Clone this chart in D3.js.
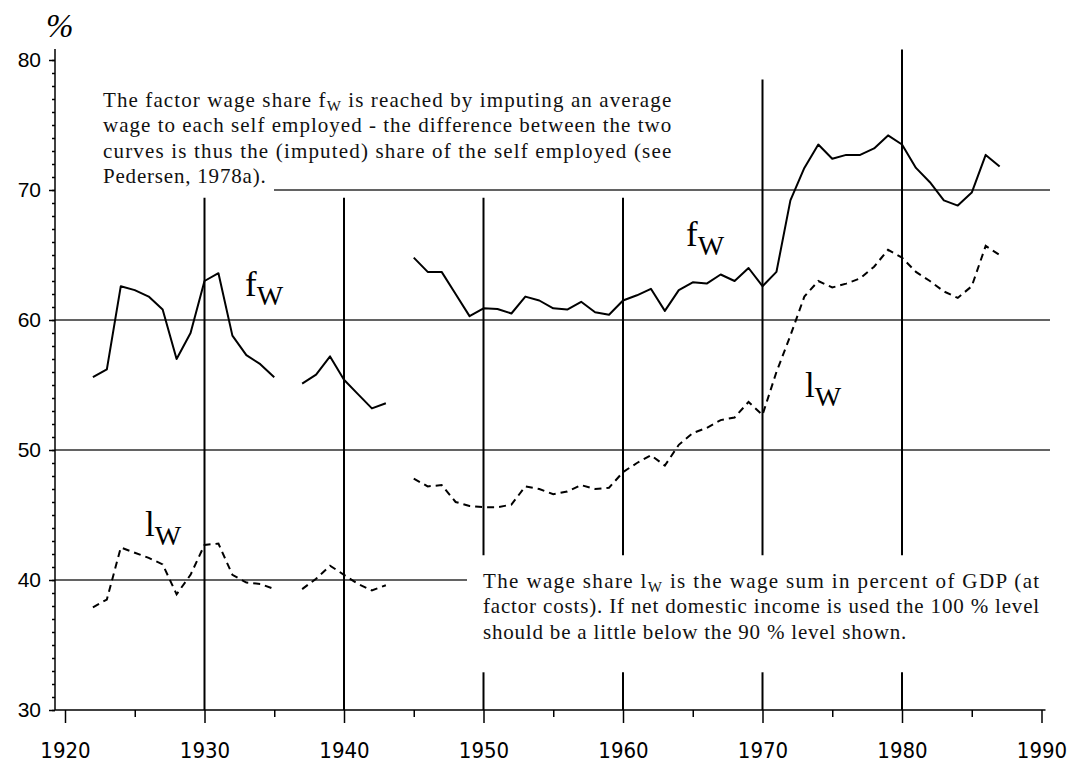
<!DOCTYPE html>
<html>
<head>
<meta charset="utf-8">
<script src="https://cdn.jsdelivr.net/npm/d3@7"></script>
<style>
  body { margin: 0; background: #fff; }
  svg { display: block; }
  .grid { stroke: #2f2f2f; stroke-width: 1.7; }
  .vline { stroke: #000; stroke-width: 2; }
  .fw { fill: none; stroke: #000; stroke-width: 2; stroke-linejoin: round; }
  .lw { fill: none; stroke: #000; stroke-width: 2; stroke-dasharray: 7 5; }
  .axis text { font-family: "Liberation Sans", Arial, sans-serif; font-size: 21px; fill: #000; }
  .axis.xa text { font-family: "Liberation Sans Narrow", "DejaVu Sans Condensed", "Liberation Sans", sans-serif; font-size: 22px; }
  .axis path, .axis line { stroke: #000; stroke-width: 1.5; }
  .note { font-family: "Liberation Serif", "Times New Roman", serif; font-size: 21px; letter-spacing: 0.8px; fill: #111; }
  .lab { font-family: "Liberation Serif", "Times New Roman", serif; fill: #000; }
</style>
</head>
<body>
<svg width="1085" height="775"></svg>
<script>
var years = [1922, 1923, 1924, 1925, 1926, 1927, 1928, 1929, 1930, 1931, 1932, 1933, 1934, 1935, 1936,
             1937, 1938, 1939, 1940, 1941, 1942, 1943, 1944,
             1945, 1946, 1947, 1948, 1949, 1950, 1951, 1952, 1953, 1954, 1955, 1956, 1957, 1958, 1959,
             1960, 1961, 1962, 1963, 1964, 1965, 1966, 1967, 1968, 1969, 1970, 1971, 1972, 1973, 1974,
             1975, 1976, 1977, 1978, 1979, 1980, 1981, 1982, 1983, 1984, 1985, 1986, 1987];

// factor wage share (solid)
var fwValues = [55.6, 56.2, 62.6, 62.3, 61.8, 60.8, 57.0, 59.0, 63.0, 63.6, 58.8, 57.3, 56.6, 55.6, null,
                55.1, 55.8, 57.2, 55.4, 54.3, 53.2, 53.6, null,
                64.8, 63.7, 63.7, 62.0, 60.3, 60.9, 60.85, 60.5, 61.8, 61.5, 60.9, 60.8, 61.4, 60.6, 60.4,
                61.5, 61.9, 62.4, 60.7, 62.3, 62.9, 62.8, 63.5, 63.0, 64.0, 62.6, 63.7, 69.2, 71.7, 73.5,
                72.4, 72.7, 72.7, 73.2, 74.2, 73.5, 71.7, 70.6, 69.2, 68.8, 69.8, 72.7, 71.8];

// wage share (dashed)
var lwValues = [37.9, 38.5, 42.5, 42.1, 41.7, 41.2, 38.9, 40.4, 42.7, 42.8, 40.4, 39.8, 39.7, 39.3, null,
                39.3, 40.1, 41.1, 40.4, 39.7, 39.2, 39.6, null,
                47.8, 47.2, 47.3, 46.0, 45.7, 45.6, 45.6, 45.8, 47.2, 47.0, 46.6, 46.8, 47.3, 47.0, 47.1,
                48.3, 49.0, 49.6, 48.8, 50.4, 51.3, 51.7, 52.3, 52.5, 53.7, 52.7, 56.0, 58.8, 61.8, 63.0,
                62.5, 62.8, 63.2, 64.1, 65.4, 64.8, 63.7, 63.0, 62.2, 61.7, 62.6, 65.7, 65.0];

var xTicks = [1920, 1930, 1940, 1950, 1960, 1970, 1980, 1990];
var xMinorTicks = [1925, 1935, 1945, 1955, 1965, 1975, 1985];
var yTicks = [30, 40, 50, 60, 70, 80];

var note1 = [
  ["The factor wage share f", "W", " is reached by imputing an average"],
  ["wage to each self employed - the difference between the two"],
  ["curves is thus the (imputed) share of the self employed (see"],
  ["Pedersen, 1978a)."]
];
var note2 = [
  ["The wage share l", "W", " is the wage sum in percent of GDP (at"],
  ["factor costs). If net domestic income is used the 100 % level"],
  ["should be a little below the 90 % level shown."]
];

var svg = d3.select("svg"),
    axisX = 55;

var x = d3.scaleLinear().domain([1920, 1990]).range([65, 1041.5]);
var y = d3.scaleLinear().domain([30, 80]).range([710, 60]);

var data = years.map(function(d, i) { return {year: d, fw: fwValues[i], lw: lwValues[i]}; });

// horizontal grid lines, some broken around the notes
var hGrid = [
  {v: 70, x1: 274, x2: 1050},
  {v: 60, x1: axisX, x2: 1050},
  {v: 50, x1: axisX, x2: 1050},
  {v: 40, x1: axisX, x2: 467}
];
svg.append("g").selectAll("line")
  .data(hGrid)
  .enter().append("line")
    .attr("class", "grid")
    .attr("x1", function(d) { return d.x1; })
    .attr("x2", function(d) { return d.x2; })
    .attr("y1", function(d) { return y(d.v); })
    .attr("y2", function(d) { return y(d.v); });

// vertical decade lines, value ranges in %
var vGrid = [
  {year: 1930, segs: [[69.4, 30]]},
  {year: 1940, segs: [[69.4, 30]]},
  {year: 1950, segs: [[69.4, 41.9], [32.9, 30]]},
  {year: 1960, segs: [[69.4, 41.9], [32.9, 30]]},
  {year: 1970, segs: [[78.5, 41.9], [32.9, 30]]},
  {year: 1980, segs: [[80.8, 41.9], [32.9, 30]]}
];
var vg = svg.append("g");
vGrid.forEach(function(d) {
  d.segs.forEach(function(s) {
    vg.append("line")
      .attr("class", "vline")
      .attr("x1", x(d.year)).attr("x2", x(d.year))
      .attr("y1", y(s[0])).attr("y2", y(s[1]));
  });
});

// x axis
var gx = svg.append("g")
    .attr("class", "axis xa")
    .attr("transform", "translate(0," + y(30) + ")");
gx.call(d3.axisBottom(x).tickValues(xTicks).tickFormat(d3.format("d")).tickSize(13).tickSizeOuter(0).tickPadding(19));
gx.select(".domain").remove();
gx.append("line").attr("x1", axisX).attr("x2", x(1990) + 4).attr("y1", 0).attr("y2", 0)
  .attr("stroke", "#000").attr("stroke-width", 1.6);
svg.append("g")
    .attr("class", "axis")
    .attr("transform", "translate(0," + y(30) + ")")
    .call(d3.axisBottom(x).tickValues(xMinorTicks).tickFormat("").tickSize(7))
  .select(".domain").remove();

// y axis
var gy = svg.append("g")
    .attr("class", "axis")
    .attr("transform", "translate(" + axisX + ",0)");
gy.call(d3.axisLeft(y).tickValues(yTicks).tickSize(6).tickSizeOuter(0).tickPadding(8));
gy.select(".domain").remove();
gy.append("line").attr("x1", 0).attr("x2", 0).attr("y1", y(80) - 11).attr("y2", y(30))
  .attr("stroke", "#000").attr("stroke-width", 1.8);
svg.append("g")
    .attr("class", "axis")
    .attr("transform", "translate(" + axisX + ",0)")
    .call(d3.axisLeft(y).ticks(50).tickFormat("").tickSize(3))
  .select(".domain").remove();

svg.append("text")
    .attr("class", "lab")
    .attr("x", 46).attr("y", 37)
    .style("font-size", "33px")
    .style("font-style", "italic")
    .text("%");

// series
var fwLine = d3.line()
    .defined(function(d) { return d.fw != null; })
    .x(function(d) { return x(d.year); })
    .y(function(d) { return y(d.fw); });
var lwLine = d3.line()
    .defined(function(d) { return d.lw != null; })
    .x(function(d) { return x(d.year); })
    .y(function(d) { return y(d.lw); });

svg.append("path").datum(data).attr("class", "fw").attr("d", fwLine);
svg.append("path").datum(data).attr("class", "lw").attr("d", lwLine);

// curve labels
function subLabel(px, py, main) {
  var t = svg.append("text").attr("class", "lab").attr("x", px).attr("y", py).style("font-size", "35px");
  t.append("tspan").text(main);
  t.append("tspan").attr("dy", 9).style("font-size", "28px").text("W");
}
subLabel(245, 296, "f");
subLabel(686, 246, "f");
subLabel(145, 536, "l");
subLabel(805, 397, "l");

// notes
function note(lines, px, py, width) {
  lines.forEach(function(parts, i) {
    var t = svg.append("text").attr("class", "note").attr("x", px).attr("y", py + i * 25.3);
    if (i < lines.length - 1) t.attr("textLength", width).attr("lengthAdjust", "spacing");
    t.append("tspan").text(parts[0]);
    if (parts.length > 1) {
      t.append("tspan").attr("dy", 4).style("font-size", "15px").text(parts[1]);
      t.append("tspan").attr("dy", -4).text(parts[2]);
    }
  });
}
note(note1, 103, 107, 569);
note(note2, 483, 588, 557);
</script>
</body>
</html>
